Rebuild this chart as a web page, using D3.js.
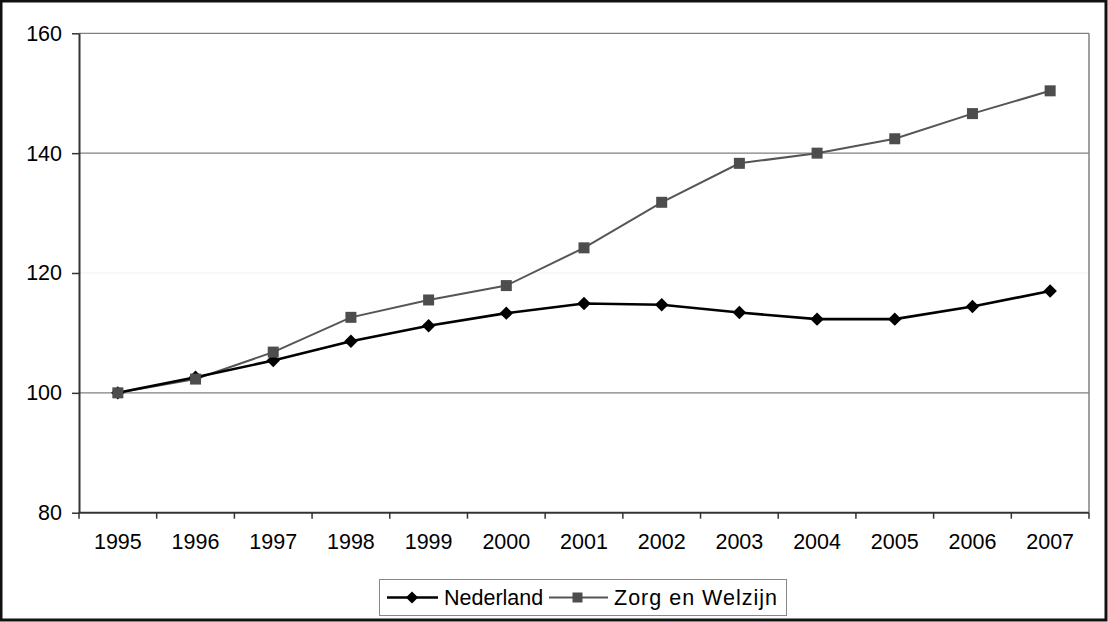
<!DOCTYPE html>
<html><head><meta charset="utf-8">
<script src="https://cdn.jsdelivr.net/npm/d3@7"></script>
<style>body{margin:0;background:#fff}svg{display:block}text{font-family:"Liberation Sans",Arial,sans-serif}</style>
</head><body>
<svg id="c" width="1108" height="622"></svg>
<script>
const years = ["1995","1996","1997","1998","1999","2000","2001","2002","2003","2004","2005","2006","2007"];
const nederland = [100,102.6,105.4,108.6,111.2,113.3,114.9,114.7,113.4,112.3,112.3,114.4,117.0];
const zorg = [100,102.3,106.8,112.6,115.5,117.9,124.2,131.8,138.3,140.0,142.4,146.6,150.4];
const yTicks = [80,100,120,140,160];
const seriesNames = ["Nederland","Zorg en Welzijn"];

const svg = d3.select("#c");
const L=79, R=1089, T=33.3, B=512.7;
const FS = 21.5;
const x = d3.scaleBand().domain(years).range([L,R]);
const y = d3.scaleLinear().domain([80,160]).range([B,T]);

// outer border
svg.append("rect").attr("x",1).attr("y",1).attr("width",1105).attr("height",619)
  .attr("fill","none").attr("stroke","#111").attr("stroke-width",3);

// gridlines
yTicks.filter(v=>v>80).forEach(v=>{
  svg.append("line").attr("x1",L).attr("x2",R).attr("y1",y(v)).attr("y2",y(v))
    .attr("stroke", v===120 ? "#f2f2f2" : "#808080").attr("stroke-width",1.2);
});
// right border
svg.append("line").attr("x1",R).attr("x2",R).attr("y1",T).attr("y2",B).attr("stroke","#808080").attr("stroke-width",1.5);

// y axis
const yAxis = d3.axisLeft(y).tickValues(yTicks).tickSize(7).tickSizeOuter(0).tickPadding(10);
const ya = svg.append("g").attr("transform",`translate(${L},0)`).call(yAxis);
ya.select(".domain").attr("stroke","#333").attr("stroke-width",2);
ya.selectAll(".tick line").attr("stroke","#333").attr("stroke-width",1.5);
ya.selectAll("text").attr("font-size",FS).attr("fill","#000").attr("font-family","Liberation Sans, Arial, sans-serif");

// x axis (ticks between categories)
const xa = svg.append("g").attr("transform",`translate(0,${B})`);
xa.append("line").attr("x1",L).attr("x2",R).attr("stroke","#333").attr("stroke-width",2);
const bounds = years.map(d=>x(d)).concat([R]);
xa.selectAll("line.t").data(bounds).join("line").attr("class","t")
  .attr("x1",d=>d).attr("x2",d=>d).attr("y1",0).attr("y2",6).attr("stroke","#333").attr("stroke-width",1.5);
xa.selectAll("text").data(years).join("text")
  .attr("x",d=>x(d)+x.bandwidth()/2).attr("y",36).attr("text-anchor","middle")
  .attr("font-size",FS).attr("fill","#000").text(d=>d);

const cx = d=>x(d)+x.bandwidth()/2;
const line = d3.line().x((v,i)=>cx(years[i])).y(v=>y(v));

// Zorg series
svg.append("path").datum(zorg).attr("d",line).attr("fill","none").attr("stroke","#555").attr("stroke-width",2);
// Nederland series
svg.append("path").datum(nederland).attr("d",line).attr("fill","none").attr("stroke","#000").attr("stroke-width",2.6);

const diamond = d3.symbol().type(d3.symbolDiamond2).size(115);
svg.selectAll("path.dm").data(nederland).join("path").attr("class","dm")
  .attr("d",diamond).attr("transform",(v,i)=>`translate(${cx(years[i])},${y(v)})`).attr("fill","#000");
svg.selectAll("rect.sq").data(zorg).join("rect").attr("class","sq")
  .attr("x",(v,i)=>cx(years[i])-5.5).attr("y",v=>y(v)-5.5).attr("width",11).attr("height",11).attr("fill","#4d4d4d");

// legend
const lg = svg.append("g");
lg.append("rect").attr("x",379.5).attr("y",579.5).attr("width",407).attr("height",36).attr("fill","#fff").attr("stroke","#888").attr("stroke-width",1);
const ly = 597.5;
lg.append("line").attr("x1",387).attr("x2",438).attr("y1",ly).attr("y2",ly).attr("stroke","#000").attr("stroke-width",2.6);
lg.append("path").attr("d",d3.symbol().type(d3.symbolDiamond2).size(95)).attr("transform",`translate(412,${ly})`).attr("fill","#000");
lg.append("text").attr("x",444).attr("y",ly+7.5).attr("font-size",FS).text(seriesNames[0]);
lg.append("line").attr("x1",549).attr("x2",608).attr("y1",ly).attr("y2",ly).attr("stroke","#555").attr("stroke-width",2);
lg.append("rect").attr("x",572.5).attr("y",ly-5).attr("width",10).attr("height",10).attr("fill","#4d4d4d");
lg.append("text").attr("x",614).attr("y",ly+7.5).attr("font-size",FS).attr("textLength",163).text(seriesNames[1]);
</script>
</body></html>
